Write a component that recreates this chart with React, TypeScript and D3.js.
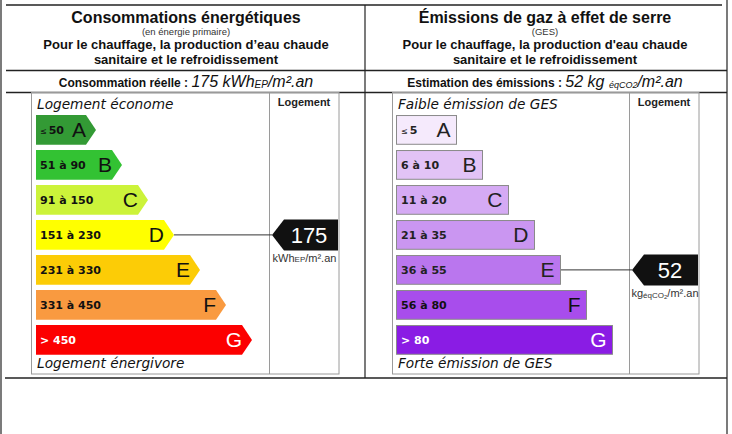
import React from 'react';
import * as d3 from 'd3';

const classes = ['A', 'B', 'C', 'D', 'E', 'F', 'G'];
const energyRanges = ['≤50', '51 à 90', '91 à 150', '151 à 230', '231 à 330', '331 à 450', '> 450'];
const energyUpper = [50, 90, 150, 230, 330, 450, Infinity];
const energyColors = ['#339a35', '#33c233', '#ccf33a', '#ffff00', '#fccc06', '#f99a40', '#fc0000'];
const energyTextColors = ['#111', '#111', '#111', '#111', '#111', '#111', '#fff'];
const gesRanges = ['≤5', '6 à 10', '11 à 20', '21 à 35', '36 à 55', '56 à 80', '> 80'];
const gesUpper = [5, 10, 20, 35, 55, 80, Infinity];
const gesColors = ['#f5eafc', '#e2c3f6', '#d5aaf4', '#ca96f1', '#ba76ee', '#a84dec', '#8a1ce4'];
const gesTextColors = ['#222', '#222', '#222', '#222', '#222', '#111', '#fff'];
const energyValue = 175;
const gesValue = 52;

const SANS = 'Liberation Sans, Arial, sans-serif';
const VERD = 'DejaVu Sans, Verdana, sans-serif';

function RangeLabel({ x, y, text, color }: { x: number; y: number; text: string; color: string }) {
  if (text.startsWith('≤')) {
    return (
      <text x={x} y={y} fontFamily={VERD} fontWeight="bold" fontSize={11} fill={color}>
        <tspan fontSize={8} fontWeight="normal">≤</tspan>
        <tspan dx={2}>{text.slice(1)}</tspan>
      </text>
    );
  }
  return (
    <text x={x} y={y} fontFamily={VERD} fontWeight="bold" fontSize={11} fill={color}>{text}</text>
  );
}

export default function App() {
  const y = d3.scaleBand<string>().domain(classes).range([112.4, 357.4]).paddingInner(0.15).paddingOuter(0.075);
  const bw = y.bandwidth();
  const eTip = d3.scaleLinear().domain([0, 6]).range([96, 252]);
  const gRight = d3.scaleLinear().domain([0, 6]).range([457, 613]);
  const eLeft = 36;
  const gLeft = 396;
  const arrow = 10;

  const eIdx = energyUpper.findIndex((u) => energyValue <= u);
  const gIdx = gesUpper.findIndex((u) => gesValue <= u);

  const eMid = (y(classes[eIdx]) as number) + bw / 2;
  const gMid = (y(classes[gIdx]) as number) + bw / 2;

  const lineC = '#222';
  const boxC = '#9a9a9a';

  const markerPath = (tip: number, right: number, top: number, h: number) => {
    const p = d3.path();
    p.moveTo(tip, top + h / 2);
    p.lineTo(tip + 12, top);
    p.lineTo(right, top);
    p.lineTo(right, top + h);
    p.lineTo(tip + 12, top + h);
    p.closePath();
    return p.toString();
  };

  const eMarkTop = eMid - 15.5;
  const gMarkTop = gMid - 15.5;

  return (
    <svg width={732} height={434} style={{ position: 'absolute', left: 0, top: 0, background: '#fff' }}>
      <rect x={0} y={0} width={732} height={434} fill="#fff" />
      {/* outer frame */}
      <line x1={1} y1={0} x2={1} y2={434} stroke={lineC} strokeWidth={1.2} />
      <line x1={727} y1={0} x2={727} y2={434} stroke={lineC} strokeWidth={1.2} />
      <line x1={6} y1={5} x2={722} y2={5} stroke={lineC} strokeWidth={1.5} />
      <line x1={6} y1={70.5} x2={727} y2={70.5} stroke={lineC} strokeWidth={1.5} />
      <line x1={6} y1={92.5} x2={727} y2={92.5} stroke={lineC} strokeWidth={1.5} />
      <line x1={5} y1={378} x2={727} y2={378} stroke={lineC} strokeWidth={1.5} />
      <line x1={365} y1={5} x2={365} y2={378} stroke={lineC} strokeWidth={1.2} />

      {/* titles left */}
      <text x={186} y={22.5} textAnchor="middle" fontFamily={SANS} fontWeight="bold" fontSize={16} fill="#111">Consommations énergétiques</text>
      <text x={186} y={34.5} textAnchor="middle" fontFamily={SANS} fontSize={9.5} fill="#333">(en énergie primaire)</text>
      <text x={186} y={48.5} textAnchor="middle" fontFamily={SANS} fontWeight="bold" fontSize={13} fill="#111">Pour le chauffage, la production d’eau chaude</text>
      <text x={186} y={63.5} textAnchor="middle" fontFamily={SANS} fontWeight="bold" fontSize={13} fill="#111">sanitaire et le refroidissement</text>
      <text x={186} y={87} textAnchor="middle" fontFamily={SANS} fill="#111">
        <tspan fontWeight="bold" fontSize={12}>Consommation réelle : </tspan>
        <tspan fontStyle="italic" fontSize={16}>{energyValue} kWh</tspan>
        <tspan fontStyle="italic" fontSize={10} dy={1}>EP</tspan>
        <tspan fontStyle="italic" fontSize={16} dy={-1}>/m².an</tspan>
      </text>

      {/* titles right */}
      <text x={545} y={22.5} textAnchor="middle" fontFamily={SANS} fontWeight="bold" fontSize={16} fill="#111">Émissions de gaz à effet de serre</text>
      <text x={545} y={34.5} textAnchor="middle" fontFamily={SANS} fontSize={9.5} fill="#333">(GES)</text>
      <text x={545} y={48.5} textAnchor="middle" fontFamily={SANS} fontWeight="bold" fontSize={13} fill="#111">Pour le chauffage, la production d'eau chaude</text>
      <text x={545} y={63.5} textAnchor="middle" fontFamily={SANS} fontWeight="bold" fontSize={13} fill="#111">sanitaire et le refroidissement</text>
      <text x={545} y={87} textAnchor="middle" fontFamily={SANS} fill="#111">
        <tspan fontWeight="bold" fontSize={12}>Estimation des émissions : </tspan>
        <tspan fontStyle="italic" fontSize={16}>{gesValue} kg </tspan>
        <tspan fontStyle="italic" fontSize={9} dy={1}>éqCO2</tspan>
        <tspan fontStyle="italic" fontSize={16} dy={-1}>/m².an</tspan>
      </text>

      {/* inner boxes */}
      <rect x={31.5} y={92.5} width={307.5} height={281.5} fill="none" stroke={boxC} strokeWidth={1} />
      <line x1={269.5} y1={92.5} x2={269.5} y2={374} stroke={boxC} strokeWidth={1} />
      <rect x={392.5} y={92.5} width={306.5} height={281.5} fill="none" stroke={boxC} strokeWidth={1} />
      <line x1={629.5} y1={92.5} x2={629.5} y2={374} stroke={boxC} strokeWidth={1} />

      <text x={304} y={105.5} textAnchor="middle" fontFamily={SANS} fontWeight="bold" fontSize={11} fill="#222">Logement</text>
      <text x={664} y={105.5} textAnchor="middle" fontFamily={SANS} fontWeight="bold" fontSize={11} fill="#222">Logement</text>

      <text x={37} y={108.5} fontFamily={VERD} fontStyle="italic" fontSize={13.7} fill="#111">Logement économe</text>
      <text x={37} y={368} fontFamily={VERD} fontStyle="italic" fontSize={13.7} fill="#111">Logement énergivore</text>
      <text x={398} y={108.5} fontFamily={VERD} fontStyle="italic" fontSize={13.7} fill="#111">Faible émission de GES</text>
      <text x={398} y={368} fontFamily={VERD} fontStyle="italic" fontSize={13.7} fill="#111">Forte émission de GES</text>

      {/* energy bars */}
      {classes.map((c, i) => {
        const top = y(c) as number;
        const tip = eTip(i);
        const body = tip - arrow;
        const p = d3.path();
        p.moveTo(eLeft, top);
        p.lineTo(body, top);
        p.lineTo(tip, top + bw / 2);
        p.lineTo(body, top + bw);
        p.lineTo(eLeft, top + bw);
        p.closePath();
        return (
          <g key={'e' + c}>
            <path d={p.toString()} fill={energyColors[i]} />
            <RangeLabel x={40} y={top + bw / 2 + 4} text={energyRanges[i]} color={energyTextColors[i]} />
            <text x={body} y={top + bw / 2 + 7.5} textAnchor="end" fontFamily={SANS} fontSize={21} fill={energyTextColors[i]}>{c}</text>
          </g>
        );
      })}

      {/* ges bars */}
      {classes.map((c, i) => {
        const top = y(c) as number;
        const right = gRight(i);
        return (
          <g key={'g' + c}>
            <rect x={gLeft + 0.5} y={top + 0.5} width={right - gLeft - 1} height={bw - 1} fill={gesColors[i]} stroke="#8a8a8a" strokeWidth={1} />
            <RangeLabel x={401} y={top + bw / 2 + 4} text={gesRanges[i]} color={gesTextColors[i]} />
            <text x={right - 6.5} y={top + bw / 2 + 7.5} textAnchor="end" fontFamily={SANS} fontSize={21} fill={gesTextColors[i]}>{c}</text>
          </g>
        );
      })}

      {/* energy marker */}
      <line x1={eTip(eIdx)} y1={eMid} x2={272} y2={eMid} stroke="#333" strokeWidth={1} />
      <path d={markerPath(272, 338, eMarkTop, 31)} fill="#111" />
      <text x={309} y={eMid + 8} textAnchor="middle" fontFamily={SANS} fontSize={22} fill="#fff">{energyValue}</text>
      <text x={304.5} y={eMarkTop + 42.5} textAnchor="middle" fontFamily={SANS} fontSize={11} fill="#333">
        <tspan>kWh</tspan>
        <tspan fontSize={8}>EP</tspan>
        <tspan>/m².an</tspan>
      </text>

      {/* ges marker */}
      <line x1={gRight(gIdx)} y1={gMid} x2={632} y2={gMid} stroke="#333" strokeWidth={1} />
      <path d={markerPath(632, 698, gMarkTop, 31)} fill="#111" />
      <text x={670} y={gMid + 8} textAnchor="middle" fontFamily={SANS} fontSize={22} fill="#fff">{gesValue}</text>
      <text x={665} y={gMarkTop + 42.5} textAnchor="middle" fontFamily={SANS} fontSize={11} fill="#333">
        <tspan>kg</tspan>
        <tspan fontSize={8} dy={1.5}>éqCO</tspan>
        <tspan fontSize={6} dy={0.5}>2</tspan>
        <tspan dy={-2}>/m².an</tspan>
      </text>
    </svg>
  );
}
